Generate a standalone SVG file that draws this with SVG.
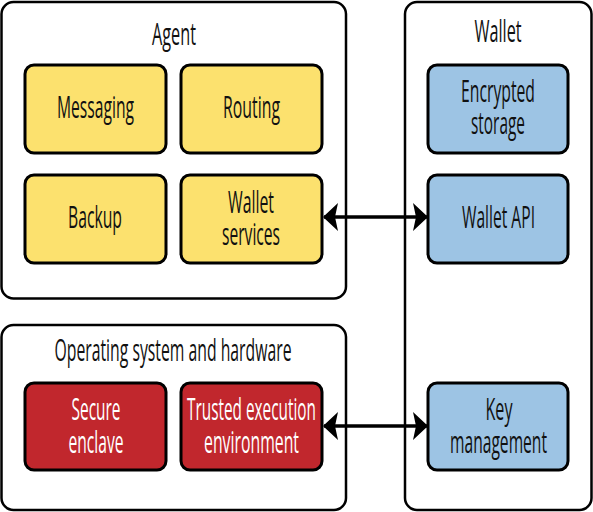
<svg xmlns="http://www.w3.org/2000/svg" width="593" height="512" viewBox="0 0 593 512">
<style>
.outer{fill:#fff;stroke:#000;stroke-width:2.5}
.box{stroke:#000;stroke-width:3}
.y{fill:#FCE16E}.b{fill:#9DC4E4}.r{fill:#C1272D}
text{font-family:"Open Sans","DejaVu Sans Condensed",sans-serif;font-size:31px;font-weight:500;text-anchor:middle;fill:#111}
.w{fill:#fff}
.conn{stroke:#000;stroke-width:3.5;fill:none}
</style>
<defs>
<marker id="ah" viewBox="0 0 15 28" refX="14" refY="14" markerWidth="15" markerHeight="28" markerUnits="userSpaceOnUse" orient="auto-start-reverse">
<path d="M0,0 L15,14 L0,28 L3,14 Z" fill="#000"/>
</marker>
</defs>
<rect width="593" height="512" fill="#fff"/>
<g id="agent">
<rect class="outer" x="1.5" y="2" width="344.5" height="296.5" rx="12"/>
<text x="174" y="45" textLength="44" lengthAdjust="spacingAndGlyphs">Agent</text>
</g>
<g id="wallet">
<rect class="outer" x="405" y="2" width="186.5" height="508" rx="12"/>
<text x="498" y="42" textLength="47" lengthAdjust="spacingAndGlyphs">Wallet</text>
</g>
<g id="os">
<rect class="outer" x="1.5" y="325" width="344.5" height="185" rx="12"/>
<text x="173" y="361" textLength="237" lengthAdjust="spacingAndGlyphs">Operating system and hardware</text>
</g>
<g id="messaging">
<rect class="box y" x="25" y="65" width="141" height="88" rx="9"/>
<text x="95.5" y="118" textLength="77" lengthAdjust="spacingAndGlyphs">Messaging</text>
</g>
<g id="routing">
<rect class="box y" x="181" y="65" width="141" height="88" rx="9"/>
<text x="251.5" y="118" textLength="57" lengthAdjust="spacingAndGlyphs">Routing</text>
</g>
<g id="backup">
<rect class="box y" x="25" y="175" width="141" height="88" rx="9"/>
<text x="95" y="228" textLength="54" lengthAdjust="spacingAndGlyphs">Backup</text>
</g>
<g id="wallet-services">
<rect class="box y" x="181" y="175" width="141" height="88" rx="9"/>
<text x="251" y="213" textLength="46" lengthAdjust="spacingAndGlyphs">Wallet</text>
<text x="251" y="245" textLength="58" lengthAdjust="spacingAndGlyphs">services</text>
</g>
<g id="encrypted-storage">
<rect class="box b" x="428" y="65" width="140" height="88" rx="9"/>
<text x="498" y="102" textLength="74" lengthAdjust="spacingAndGlyphs">Encrypted</text>
<text x="498" y="134" textLength="54" lengthAdjust="spacingAndGlyphs">storage</text>
</g>
<g id="wallet-api">
<rect class="box b" x="428" y="175" width="140" height="88" rx="9"/>
<text x="498.5" y="228" textLength="73" lengthAdjust="spacingAndGlyphs">Wallet API</text>
</g>
<g id="secure-enclave">
<rect class="box r" x="25" y="383" width="141" height="87" rx="9"/>
<text class="w" x="96" y="420" textLength="49" lengthAdjust="spacingAndGlyphs">Secure</text>
<text class="w" x="96" y="453" textLength="55" lengthAdjust="spacingAndGlyphs">enclave</text>
</g>
<g id="tee">
<rect class="box r" x="181" y="383" width="141" height="87" rx="9"/>
<text class="w" x="251.5" y="420" textLength="129" lengthAdjust="spacingAndGlyphs">Trusted execution</text>
<text class="w" x="251.5" y="453" textLength="95" lengthAdjust="spacingAndGlyphs">environment</text>
</g>
<g id="key-management">
<rect class="box b" x="428" y="383" width="140" height="87" rx="9"/>
<text x="499" y="420" textLength="27" lengthAdjust="spacingAndGlyphs">Key</text>
<text x="498.5" y="453" textLength="97" lengthAdjust="spacingAndGlyphs">management</text>
</g>
<g id="connectors">
<line class="conn" x1="324" y1="217" x2="427" y2="217" marker-start="url(#ah)" marker-end="url(#ah)"/>
<line class="conn" x1="324" y1="426" x2="427" y2="426" marker-start="url(#ah)" marker-end="url(#ah)"/>
</g>
</svg>
